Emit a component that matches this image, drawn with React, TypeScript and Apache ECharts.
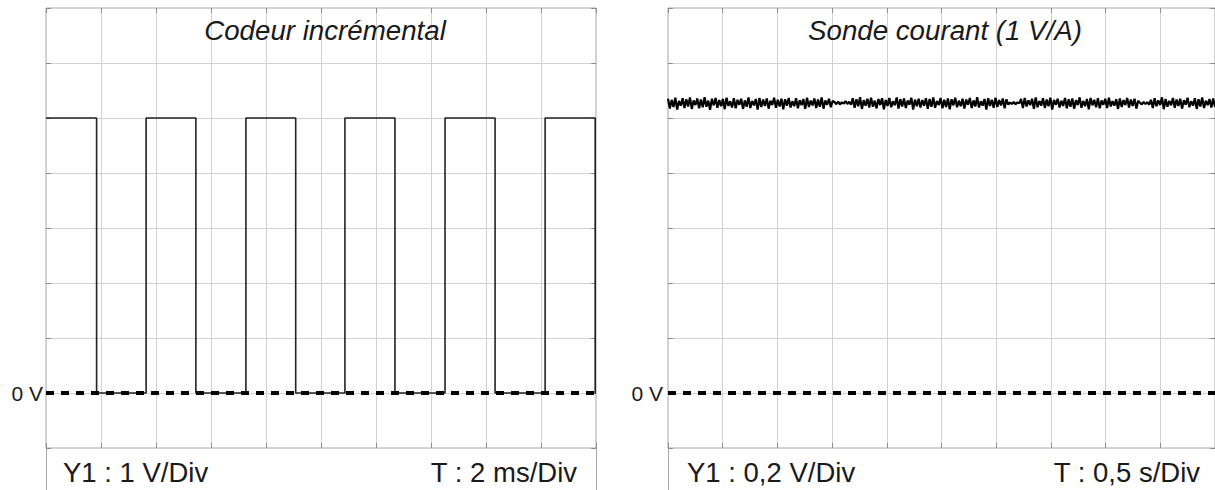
import React, { useEffect, useRef } from "react";
import * as echarts from "echarts";

// ---- Data ----
// Left panel: incremental encoder square wave (0 V / 5 V), time in ms
const encoderLow = 0;
const encoderHigh = 5;
const encoderEdgesMs = [1.84, 3.64, 5.45, 7.27, 9.08, 10.87, 12.69, 14.51, 16.33, 18.15, 19.97];
const encoderStartsHigh = true;
const encoderTimeSpanMs = [0, 20];

// Right panel: current probe (1 V/A), sampled signal in millivolts over 0..5 s
const probeTimeSpanS = [0, 5];
const probeMillivolts = [
  1070, 1034, 1066, 1040, 1074, 1031, 1062, 1045, 1072, 1036, 1068, 1042, 1075, 1033, 1064, 1047, 1071, 1035, 1067, 1039,
  1076, 1041, 1063, 1030, 1070, 1046, 1073, 1037, 1065, 1043, 1069, 1032, 1074, 1044, 1061, 1038, 1072, 1035, 1066, 1048,
  1070, 1033, 1064, 1041, 1075, 1036, 1062, 1046, 1069, 1031, 1073, 1040, 1067, 1044, 1071, 1034, 1063, 1047, 1074, 1037,
  1066, 1042, 1070, 1032, 1068, 1045, 1073, 1038, 1061, 1043, 1072, 1035, 1065, 1047, 1069, 1033, 1074, 1040, 1063, 1046,
  1071, 1036, 1067, 1041, 1075, 1034, 1064, 1048, 1070, 1039, 1062, 1058, 1050, 1060, 1049, 1057, 1052, 1061, 1051, 1059,
  1048, 1072, 1037, 1068, 1043, 1076, 1033, 1065, 1045, 1070, 1038, 1074, 1041, 1063, 1035, 1069, 1047, 1072, 1032, 1066,
  1044, 1073, 1039, 1061, 1046, 1075, 1034, 1068, 1042, 1071, 1036, 1064, 1048, 1074, 1031, 1067, 1043, 1070, 1038, 1065,
  1045, 1072, 1033, 1069, 1041, 1075, 1037, 1062, 1047, 1073, 1035, 1066, 1040, 1071, 1032, 1068, 1046, 1074, 1039, 1063,
  1043, 1070, 1034, 1067, 1048, 1073, 1036, 1064, 1042, 1076, 1038, 1061, 1045, 1069, 1031, 1072, 1044, 1066, 1037, 1074,
  1040, 1065, 1046, 1071, 1035, 1068, 1049, 1056, 1051, 1058, 1050, 1057, 1053, 1069, 1036, 1073, 1042, 1064, 1047, 1070,
  1033, 1075, 1039, 1062, 1045, 1072, 1036, 1067, 1043, 1074, 1031, 1066, 1048, 1070, 1038, 1063, 1044, 1073, 1035, 1068,
  1041, 1071, 1034, 1065, 1047, 1075, 1037, 1062, 1043, 1069, 1032, 1073, 1046, 1066, 1039, 1072, 1035, 1064, 1048, 1070,
  1036, 1074, 1042, 1061, 1045, 1068, 1033, 1071, 1040, 1065, 1047, 1073, 1038, 1067, 1044, 1070, 1034, 1063, 1055, 1050,
  1058, 1051, 1057, 1049, 1066, 1036, 1072, 1043, 1064, 1047, 1075, 1032, 1069, 1041, 1062, 1046, 1073, 1037, 1067, 1044,
  1070, 1034, 1065, 1048, 1074, 1039, 1061, 1045, 1072, 1033, 1068, 1042, 1075, 1036, 1063, 1047, 1069, 1038, 1071, 1041,
];

// Axis scales (divisions)
const leftVoltRange = [-1, 7];
const leftVoltPerDiv = 1;
const leftTimePerDiv = 2;
const rightVoltRange = [-0.2, 1.4];
const rightVoltPerDiv = 0.2;
const rightTimePerDiv = 0.5;

// Texts
const leftTitle = "Codeur incrémental";
const rightTitle = "Sonde courant (1 V/A)";
const leftYScale = "Y1 : 1 V/Div";
const leftTScale = "T : 2 ms/Div";
const rightYScale = "Y1 : 0,2 V/Div";
const rightTScale = "T : 0,5 s/Div";
const zeroLabel = "0 V";

// ---- Build series ----
function buildSquare(): number[][] {
  const pts: number[][] = [];
  let level = encoderStartsHigh ? encoderHigh : encoderLow;
  pts.push([encoderTimeSpanMs[0], level]);
  for (const t of encoderEdgesMs) {
    pts.push([t, level]);
    level = level === encoderHigh ? encoderLow : encoderHigh;
    pts.push([t, level]);
  }
  pts.push([encoderTimeSpanMs[1], level]);
  return pts;
}

function buildProbe(): number[][] {
  const n = probeMillivolts.length;
  const span = probeTimeSpanS[1] - probeTimeSpanS[0];
  return probeMillivolts.map((mv, i) => [probeTimeSpanS[0] + (span * i) / (n - 1), mv / 1000]);
}

const FONT = "'Liberation Sans', Arial, sans-serif";
const GRID_COLOR = "#d2d2d2";
const BORDER_COLOR = "#a8a8a8";
const TICK_COLOR = "#8a8a8a";
const TEXT_COLOR = "#1a1a1a";

const GRID_TOP = 8;
const GRID_H = 440;
const GRID_W = 550;
const LEFT_X = 46;
const RIGHT_X = 668;
const PANEL_BOTTOM = 492;

const tickStyle = { show: true, inside: false, length: -5, lineStyle: { color: TICK_COLOR, width: 1 } };

function xAxes(gridIndex: number, min: number, max: number, interval: number) {
  const base = {
    gridIndex,
    type: "value" as const,
    min,
    max,
    interval,
    axisLine: { show: false, onZero: false },
    axisLabel: { show: false },
    axisTick: tickStyle,
  };
  return [
    { ...base, position: "bottom", splitLine: { show: true, lineStyle: { color: GRID_COLOR, width: 1 } } },
    { ...base, position: "top", splitLine: { show: false } },
  ];
}

function yAxes(gridIndex: number, min: number, max: number, interval: number, labelMargin: number) {
  const base = {
    gridIndex,
    type: "value" as const,
    min,
    max,
    interval,
    axisLine: { show: false, onZero: false },
    axisTick: tickStyle,
  };
  return [
    {
      ...base,
      position: "left",
      splitLine: { show: true, lineStyle: { color: GRID_COLOR, width: 1 } },
      axisLabel: {
        show: true,
        margin: labelMargin,
        fontFamily: FONT,
        fontSize: 21,
        color: TEXT_COLOR,
        formatter: (v: number) => (Math.abs(v) < 1e-9 ? zeroLabel : ""),
      },
    },
    { ...base, position: "right", splitLine: { show: false }, axisLabel: { show: false } },
  ];
}

function zeroMarkLine() {
  return {
    silent: true,
    symbol: ["none", "none"],
    label: { show: false },
    lineStyle: { color: "#000", width: 4, type: [8, 7] as any },
    data: [{ yAxis: 0 }],
  };
}

export default function App() {
  const ref = useRef<HTMLDivElement>(null);

  useEffect(() => {
    if (!ref.current) return;
    const chart = echarts.init(ref.current, undefined, { renderer: "svg" });

    const titleStyle = {
      fontFamily: FONT,
      fontStyle: "italic" as const,
      fontWeight: "normal" as const,
      fontSize: 27.7,
      color: TEXT_COLOR,
    };
    const footStyle = { fontFamily: FONT, fontSize: 27.5, fill: TEXT_COLOR };
    const footY = 472;

    const option: any = {
      animation: false,
      backgroundColor: "#ffffff",
      title: [
        { text: leftTitle, left: LEFT_X + GRID_W / 2 - 1, top: 11, textAlign: "center", textStyle: titleStyle },
        { text: rightTitle, left: RIGHT_X + GRID_W / 2 - 3, top: 11, textAlign: "center", textStyle: titleStyle },
      ],
      grid: [
        { left: LEFT_X, top: GRID_TOP, width: GRID_W, height: GRID_H, show: true, borderColor: BORDER_COLOR, borderWidth: 1, backgroundColor: "transparent" },
        { left: RIGHT_X, top: GRID_TOP, width: GRID_W, height: GRID_H, show: true, borderColor: BORDER_COLOR, borderWidth: 1, backgroundColor: "transparent" },
      ],
      xAxis: [
        ...xAxes(0, encoderTimeSpanMs[0], encoderTimeSpanMs[1], leftTimePerDiv),
        ...xAxes(1, probeTimeSpanS[0], probeTimeSpanS[1], rightTimePerDiv),
      ],
      yAxis: [
        ...yAxes(0, leftVoltRange[0], leftVoltRange[1], leftVoltPerDiv, 3),
        ...yAxes(1, rightVoltRange[0], rightVoltRange[1], rightVoltPerDiv, 5),
      ],
      series: [
        {
          type: "line",
          xAxisIndex: 0,
          yAxisIndex: 0,
          data: buildSquare(),
          showSymbol: false,
          symbol: "none",
          lineStyle: { color: "#222", width: 1.6 },
          markLine: zeroMarkLine(),
          z: 3,
        },
        {
          type: "line",
          xAxisIndex: 2,
          yAxisIndex: 2,
          data: buildProbe(),
          showSymbol: false,
          symbol: "none",
          lineStyle: { color: "#000", width: 2.2 },
          markLine: zeroMarkLine(),
          z: 3,
        },
      ],
      graphic: [
        { type: "line", shape: { x1: LEFT_X + 0.5, y1: GRID_TOP + GRID_H, x2: LEFT_X + 0.5, y2: PANEL_BOTTOM }, style: { stroke: BORDER_COLOR, lineWidth: 1 } },
        { type: "line", shape: { x1: LEFT_X + GRID_W + 0.5, y1: GRID_TOP + GRID_H, x2: LEFT_X + GRID_W + 0.5, y2: PANEL_BOTTOM }, style: { stroke: BORDER_COLOR, lineWidth: 1 } },
        { type: "line", shape: { x1: RIGHT_X + 0.5, y1: GRID_TOP + GRID_H, x2: RIGHT_X + 0.5, y2: PANEL_BOTTOM }, style: { stroke: BORDER_COLOR, lineWidth: 1 } },
        { type: "text", x: LEFT_X + 17, y: footY, style: { ...footStyle, text: leftYScale, textAlign: "left", textVerticalAlign: "middle" } },
        { type: "text", x: LEFT_X + GRID_W - 19, y: footY, style: { ...footStyle, text: leftTScale, textAlign: "right", textVerticalAlign: "middle" } },
        { type: "text", x: RIGHT_X + 19, y: footY, style: { ...footStyle, text: rightYScale, textAlign: "left", textVerticalAlign: "middle" } },
        { type: "text", x: RIGHT_X + GRID_W - 18, y: footY, style: { ...footStyle, text: rightTScale, textAlign: "right", textVerticalAlign: "middle" } },
      ],
    };

    chart.setOption(option);
    return () => chart.dispose();
  }, []);

  return (
    <div
      ref={ref}
      style={{ position: "fixed", left: 0, top: 0, width: 1215, height: 490, background: "#fff" }}
    />
  );
}
